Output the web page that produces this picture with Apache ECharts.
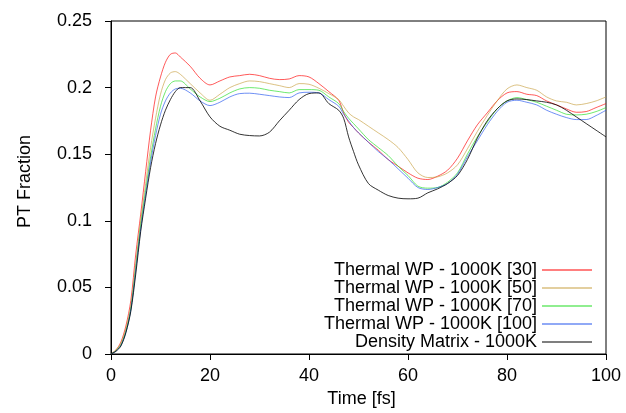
<!DOCTYPE html>
<html>
<head>
<meta charset="utf-8">
<script src="https://cdn.jsdelivr.net/npm/echarts@6/dist/echarts.min.js"></script>
<style>
html,body{margin:0;padding:0;background:#fff;}
#chart{width:626px;height:413px;}
</style>
</head>
<body>
<div id="chart"></div>
<script>
var times = [0,1,2,3,4,5,6,7,8,9,10,11,12,13,14,16,18,20,22,24,26,28,30,32,34,36,38,40,42,44,46,47,48,49,50,52,54,56,58,60,62,64,66,68,70,72,74,76,78,80,82,84,86,88,90,92,94,96,98,100];

var seriesNames = ["Thermal WP - 1000K [30]","Thermal WP - 1000K [50]","Thermal WP - 1000K [70]","Thermal WP - 1000K [100]","Density Matrix - 1000K"];

var wp30 = [0,0.003,0.009,0.021,0.040,0.075,0.105,0.137,0.168,0.193,0.208,0.219,0.225,0.226,0.223,0.216,0.207,0.202,0.205,0.208,0.209,0.210,0.209,0.207,0.206,0.2065,0.209,0.208,0.203,0.197,0.1905,0.181,0.174,0.170,0.166,0.159,0.153,0.146,0.141,0.136,0.132,0.131,0.1335,0.138,0.147,0.160,0.172,0.181,0.190,0.196,0.197,0.195,0.194,0.190,0.187,0.184,0.1815,0.182,0.185,0.188];

var wp50 = [0,0.003,0.008,0.019,0.036,0.068,0.100,0.128,0.155,0.177,0.195,0.206,0.211,0.212,0.210,0.203,0.196,0.1905,0.195,0.200,0.203,0.205,0.2045,0.203,0.2015,0.200,0.203,0.2025,0.1995,0.1955,0.191,0.186,0.181,0.178,0.176,0.171,0.166,0.161,0.155,0.146,0.136,0.1325,0.133,0.136,0.142,0.154,0.167,0.179,0.190,0.199,0.202,0.200,0.198,0.193,0.190,0.189,0.187,0.188,0.190,0.193];

var wp70 = [0,0.0025,0.007,0.017,0.034,0.065,0.097,0.123,0.148,0.169,0.186,0.197,0.203,0.205,0.205,0.199,0.193,0.1895,0.192,0.196,0.199,0.200,0.1995,0.198,0.197,0.196,0.1985,0.1985,0.198,0.193,0.188,0.182,0.177,0.173,0.169,0.161,0.155,0.149,0.141,0.134,0.126,0.1245,0.125,0.129,0.136,0.150,0.163,0.174,0.184,0.190,0.1925,0.191,0.189,0.186,0.183,0.180,0.1795,0.180,0.182,0.185];

var wp100 = [0,0.0022,0.0065,0.016,0.033,0.063,0.094,0.120,0.144,0.164,0.180,0.190,0.196,0.199,0.1995,0.196,0.190,0.1865,0.189,0.193,0.1955,0.1958,0.195,0.194,0.193,0.1925,0.196,0.1965,0.196,0.191,0.186,0.180,0.175,0.170,0.166,0.159,0.152,0.146,0.139,0.132,0.125,0.1235,0.125,0.128,0.135,0.148,0.160,0.172,0.182,0.189,0.1905,0.189,0.187,0.183,0.180,0.1775,0.176,0.176,0.179,0.183];

var dm = [0,0.002,0.006,0.016,0.032,0.060,0.092,0.117,0.140,0.158,0.172,0.183,0.191,0.197,0.200,0.200,0.190,0.178,0.171,0.168,0.165,0.164,0.1637,0.1665,0.175,0.183,0.191,0.1955,0.196,0.188,0.183,0.177,0.163,0.152,0.142,0.128,0.123,0.119,0.117,0.1165,0.117,0.121,0.124,0.128,0.134,0.146,0.162,0.175,0.184,0.190,0.1915,0.191,0.190,0.189,0.187,0.183,0.178,0.173,0.168,0.163];

var xTicks = [0,20,40,60,80,100];
var yTicks = [0,0.05,0.1,0.15,0.2,0.25];

var colors = ["#ff0000","#c8a040","#22dd22","#2255ee","#000000"];
var lineOpacity = [0.65,0.65,0.65,0.65,0.8];
var allValues = [wp30, wp50, wp70, wp100, dm];

function pairs(vals){ return times.map(function(t,i){ return [t, vals[i]]; }); }

var FONT = "Liberation Sans";
var chart = echarts.init(document.getElementById('chart'), null, {renderer:'canvas'});

var series = allValues.map(function(vals, i){
  return {
    name: seriesNames[i],
    type: 'line',
    data: pairs(vals),
    symbol: 'none',
    smooth: 0.3,
    xAxisIndex: 0,
    yAxisIndex: 0,
    lineStyle: {color: colors[i], width: 1, opacity: lineOpacity[i]},
    itemStyle: {color: colors[i]},
    z: 2 + i
  };
});

chart.setOption({
  backgroundColor: '#ffffff',
  animation: false,
  grid: {left: 111, right: 20, top: 21, bottom: 59, show: true, borderColor: '#000', borderWidth: 1, backgroundColor: 'transparent'},
  legend: {
    orient: 'vertical',
    right: 29,
    top: 256,
    align: 'right',
    itemWidth: 50,
    itemHeight: 1,
    itemGap: 0,
    icon: 'rect',
    itemStyle: {opacity: 1},
    data: seriesNames.map(function(n,i){ return {name: n, itemStyle: {color: colors[i], opacity: 1}}; }),
    textStyle: {fontFamily: FONT, fontSize: 18, color: '#000', lineHeight: 16.6},
    selectedMode: false
  },
  xAxis: [{
    type: 'value', min: 0, max: 100, interval: 20,
    name: 'Time [fs]', nameLocation: 'middle', nameGap: 27,
    nameTextStyle: {fontFamily: FONT, fontSize: 18, color: '#000', padding: [0,0,0,6]},
    axisLine: {show: true, lineStyle: {color: '#000', width: 1}},
    axisTick: {show: true, inside: false, length: 6, lineStyle: {color: '#000'}},
    axisLabel: {fontFamily: FONT, fontSize: 18, color: '#000', margin: 13,
      formatter: function(v){ return xTicks.indexOf(v) >= 0 ? String(v) : ''; }},
    splitLine: {show: false}
  },{
    type: 'value', min: 0, max: 100, interval: 20, position: 'top',
    axisLine: {show: false},
    axisTick: {show: true, inside: true, length: 6, lineStyle: {color: '#000'}},
    axisLabel: {show: false}, splitLine: {show: false}
  }],
  yAxis: [{
    type: 'value', min: 0, max: 0.25, interval: 0.05,
    name: 'PT Fraction', nameLocation: 'middle', nameGap: 77, nameRotate: 90,
    nameTextStyle: {fontFamily: FONT, fontSize: 18, color: '#000', padding: [0,0,0,12]},
    axisLine: {show: true, lineStyle: {color: '#000', width: 1}},
    axisTick: {show: true, inside: false, length: 6, lineStyle: {color: '#000'}},
    axisLabel: {fontFamily: FONT, fontSize: 18, color: '#000', margin: 19,
      formatter: function(v){ var r = Math.round(v*100)/100; return yTicks.indexOf(r) >= 0 ? String(r) : ''; }},
    splitLine: {show: false}
  },{
    type: 'value', min: 0, max: 0.25, interval: 0.05, position: 'right',
    axisLine: {show: false},
    axisTick: {show: true, inside: true, length: 6, lineStyle: {color: '#000'}},
    axisLabel: {show: false}, splitLine: {show: false}
  }],
  series: series
});
</script>
</body>
</html>
